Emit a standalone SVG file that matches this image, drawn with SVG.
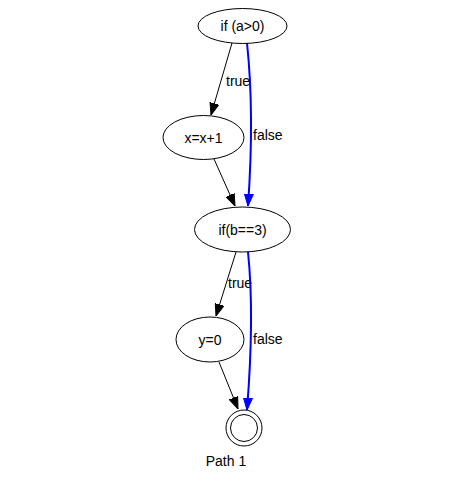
<svg xmlns="http://www.w3.org/2000/svg" width="454" height="482" viewBox="0 0 454 482">
<style>
.n{fill:none;stroke:#000;stroke-width:1}
.t{font-family:"Liberation Sans",Arial,sans-serif;font-size:14px;fill:#000;text-anchor:middle}
.l{font-family:"Liberation Sans",Arial,sans-serif;font-size:14px;fill:#000}
.e{fill:none;stroke:#000;stroke-width:1}
.b{fill:none;stroke:#0000ff;stroke-width:2}
</style>
<defs>
<marker id="ak" markerWidth="12" markerHeight="10" viewBox="0 0 12 10" refX="12" refY="5" orient="auto" markerUnits="userSpaceOnUse">
<path d="M0,0.5 L12,5 L0,9.5 Z" fill="#000" stroke="#000"/>
</marker>
<marker id="ab" markerWidth="12" markerHeight="10" viewBox="0 0 12 10" refX="12" refY="5" orient="auto" markerUnits="userSpaceOnUse">
<path d="M0,0.5 L12,5 L0,9.5 Z" fill="#0000ff" stroke="#0000ff"/>
</marker>
</defs>
<rect width="454" height="482" fill="#fff"/>
<g id="connectors">
<path class="e" d="M232,43 L211,115" marker-end="url(#ak)"/>
<text class="l" x="226" y="86">true</text>
<path class="b" d="M247,43 C252,90 252,150 248,206" marker-end="url(#ab)"/>
<text class="l" x="253" y="140">false</text>
<path class="e" d="M214,159 L235,206" marker-end="url(#ak)"/>
<path class="e" d="M236,252 L216,316" marker-end="url(#ak)"/>
<text class="l" x="228" y="288">true</text>
<path class="b" d="M248,252 C253,300 251,360 247,410" marker-end="url(#ab)"/>
<text class="l" x="253" y="344">false</text>
<path class="e" d="M219,362 L238,409" marker-end="url(#ak)"/>
</g>
<g id="n1"><ellipse class="n" cx="242.5" cy="26" rx="44.5" ry="17.5"/><text class="t" x="242.5" y="31">if (a&gt;0)</text></g>
<g id="n2"><ellipse class="n" cx="203.5" cy="137.5" rx="40.5" ry="22"/><text class="t" x="203.5" y="142.5">x=x+1</text></g>
<g id="n3"><ellipse class="n" cx="242.5" cy="229.5" rx="48" ry="22.5"/><text class="t" x="242.5" y="234.5">if(b==3)</text></g>
<g id="n4"><ellipse class="n" cx="210" cy="339.5" rx="34" ry="22.5"/><text class="t" x="210" y="344.5">y=0</text></g>
<g id="end"><circle class="n" cx="244" cy="428" r="18"/><circle class="n" cx="244" cy="428" r="13.5"/><text class="t" x="226" y="466">Path 1</text></g>
</svg>
